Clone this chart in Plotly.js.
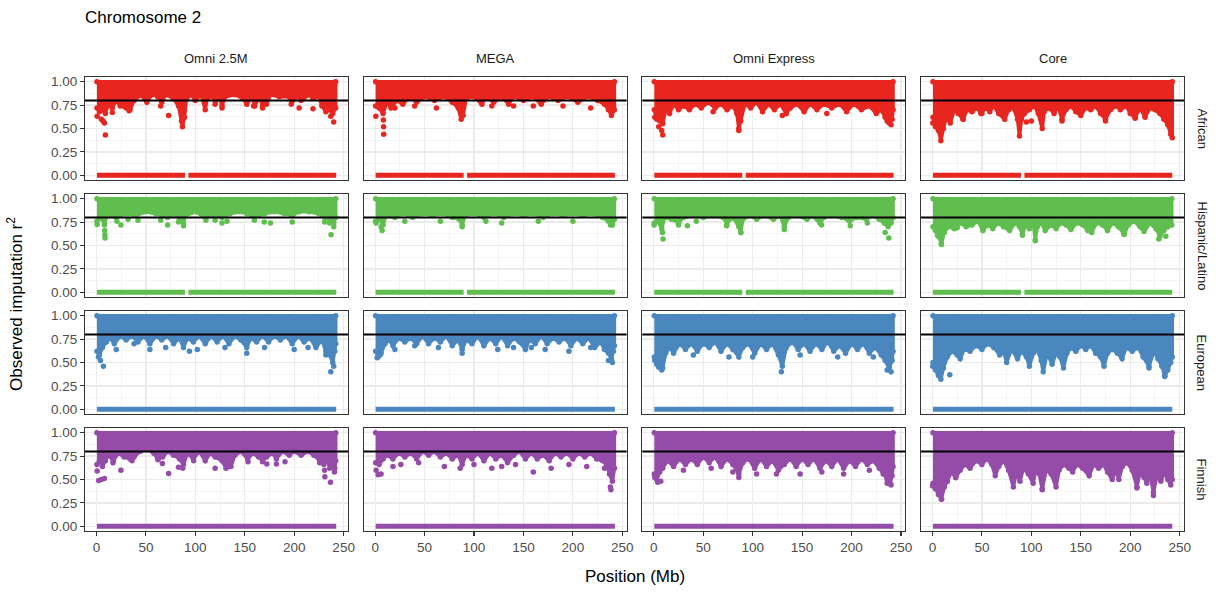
<!DOCTYPE html>
<html>
<head>
<meta charset="utf-8">
<script src="https://cdn.plot.ly/plotly-3.0.1.min.js"></script>
<style>html,body{margin:0;padding:0;background:#fff;}#chart{width:1225px;height:592px;}</style>
</head>
<body>
<div id="chart"></div>
<script>
// ---------------- DATA ----------------
const platforms = ["Omni 2.5M", "MEGA", "Omni Express", "Core"];
const populations = ["African", "Hispanic/Latino", "European", "Finnish"];
const xTickVals = [0, 50, 100, 150, 200, 250];
const yTickVals = [0, 0.25, 0.5, 0.75, 1.0];
const threshold = 0.8;
const bandTop = 1.0;
// zero-r2 variants (segments along the chromosome)
const zeroRunsGap = [[0.5, 89.5], [93, 242.5]];
const zeroRunsFull = [[0.5, 242.5]];
const popsWithGap = ["African", "Hispanic/Latino"];

// lower edge of the dense band of points [position Mb, r2]
const african_omni25_edge = [[0.5,0.72],[3,0.68],[6,0.70],[9,0.66],[12,0.76],[16,0.72],[20,0.80],[24,0.74],[30,0.72],[34,0.70],[38,0.80],[45,0.86],[51,0.78],[56,0.86],[62,0.84],[66,0.78],[70,0.86],[78,0.82],[83,0.74],[86,0.58],[87,0.52],[89,0.62],[91,0.82],[96,0.86],[100,0.80],[106,0.86],[110,0.70],[112,0.82],[118,0.84],[120,0.76],[124,0.85],[127,0.74],[130,0.84],[140,0.86],[148,0.82],[152,0.76],[158,0.84],[160,0.74],[165,0.84],[168,0.74],[172,0.76],[176,0.86],[185,0.84],[195,0.84],[197,0.76],[203,0.85],[207,0.80],[215,0.86],[219,0.82],[225,0.84],[228,0.74],[232,0.68],[236,0.70],[239,0.66],[242,0.72]];
const african_mega_edge = [[0.5,0.74],[4,0.72],[8,0.66],[12,0.78],[16,0.72],[22,0.80],[28,0.76],[35,0.84],[42,0.78],[50,0.84],[60,0.80],[70,0.84],[78,0.78],[84,0.72],[87,0.60],[89,0.64],[92,0.82],[100,0.84],[108,0.76],[112,0.84],[120,0.78],[128,0.84],[135,0.76],[140,0.84],[150,0.80],[160,0.84],[168,0.76],[175,0.84],[185,0.80],[195,0.84],[205,0.78],[215,0.84],[225,0.80],[232,0.76],[236,0.70],[239,0.64],[242,0.70]];
const african_omniexp_edge = [[0.5,0.70],[3,0.60],[6,0.58],[9,0.55],[12,0.70],[16,0.66],[20,0.76],[25,0.70],[30,0.74],[36,0.70],[42,0.76],[48,0.72],[55,0.78],[62,0.72],[68,0.76],[74,0.70],[80,0.74],[84,0.66],[86,0.50],[88,0.58],[92,0.76],[98,0.72],[104,0.78],[110,0.68],[116,0.76],[122,0.70],[128,0.76],[134,0.66],[138,0.72],[145,0.76],[152,0.68],[158,0.76],[165,0.70],[172,0.76],[180,0.72],[188,0.76],[195,0.68],[202,0.76],[210,0.70],[218,0.74],[225,0.66],[230,0.70],[234,0.62],[238,0.56],[241,0.60],[242,0.70]];
const african_core_edge = [[0.5,0.62],[3,0.52],[6,0.48],[8.5,0.37],[11,0.50],[14,0.62],[18,0.56],[22,0.70],[26,0.66],[31,0.60],[35,0.70],[40,0.68],[45,0.72],[49,0.66],[54,0.72],[58,0.68],[62,0.74],[67,0.66],[73,0.60],[77,0.70],[82,0.72],[86,0.60],[88,0.42],[90,0.60],[93,0.66],[98,0.70],[103,0.74],[107,0.66],[111,0.50],[113,0.68],[118,0.72],[123,0.66],[127,0.74],[131,0.60],[135,0.70],[140,0.74],[145,0.68],[150,0.64],[155,0.72],[160,0.70],[165,0.74],[170,0.66],[175,0.60],[180,0.70],[186,0.74],[190,0.70],[196,0.74],[200,0.66],[205,0.62],[210,0.72],[215,0.62],[220,0.72],[225,0.70],[230,0.66],[234,0.60],[238,0.54],[241,0.44],[242.5,0.40]];

const hispanic_omni25_edge = [[0.5,0.76],[4,0.80],[8,0.74],[11,0.82],[20,0.80],[30,0.84],[40,0.82],[50,0.86],[60,0.84],[66,0.82],[72,0.80],[80,0.84],[84,0.78],[88,0.74],[90,0.82],[100,0.86],[110,0.80],[120,0.82],[127,0.80],[135,0.84],[145,0.86],[152,0.84],[160,0.80],[170,0.84],[180,0.86],[190,0.84],[198,0.82],[205,0.86],[215,0.86],[225,0.84],[231,0.80],[236,0.78],[240,0.74],[242,0.80]];
const hispanic_mega_edge = [[0.5,0.76],[4,0.78],[8,0.72],[11,0.82],[20,0.80],[28,0.84],[38,0.80],[48,0.84],[58,0.82],[68,0.84],[78,0.80],[85,0.78],[88,0.72],[91,0.82],[100,0.84],[110,0.80],[120,0.84],[130,0.80],[140,0.84],[150,0.82],[160,0.84],[170,0.80],[180,0.84],[190,0.82],[200,0.84],[210,0.82],[220,0.84],[230,0.80],[236,0.76],[240,0.72],[242,0.78]];
const hispanic_omniexp_edge = [[0.5,0.74],[4,0.76],[8,0.68],[11,0.80],[18,0.78],[25,0.74],[30,0.80],[40,0.82],[50,0.80],[60,0.82],[70,0.80],[74,0.74],[80,0.80],[86,0.70],[88,0.64],[90,0.78],[98,0.82],[104,0.78],[112,0.82],[121,0.78],[128,0.82],[132,0.70],[136,0.80],[145,0.82],[155,0.78],[160,0.82],[168,0.74],[172,0.80],[180,0.82],[190,0.80],[198,0.76],[205,0.80],[215,0.78],[222,0.82],[228,0.78],[233,0.74],[237,0.70],[240,0.74],[242,0.80]];
const hispanic_core_edge = [[0.5,0.70],[3,0.66],[6,0.60],[9,0.52],[12,0.64],[16,0.70],[22,0.68],[28,0.74],[34,0.70],[40,0.72],[46,0.76],[51,0.66],[56,0.72],[61,0.68],[66,0.74],[72,0.70],[78,0.66],[84,0.74],[88,0.70],[91,0.62],[94,0.72],[98,0.68],[102,0.74],[104,0.56],[106,0.70],[110,0.74],[114,0.66],[120,0.72],[125,0.68],[130,0.74],[135,0.72],[140,0.67],[146,0.74],[152,0.72],[157,0.66],[161,0.64],[166,0.74],[172,0.72],[177,0.66],[182,0.74],[188,0.70],[194,0.62],[198,0.72],[204,0.76],[210,0.70],[214,0.65],[220,0.74],[226,0.68],[230,0.60],[234,0.66],[238,0.70],[242,0.72]];

const european_omni25_edge = [[0.5,0.62],[3,0.58],[6,0.66],[10,0.72],[14,0.76],[18,0.70],[24,0.78],[30,0.74],[36,0.78],[42,0.72],[48,0.78],[54,0.70],[60,0.78],[66,0.74],[72,0.78],[78,0.70],[84,0.76],[88,0.66],[92,0.76],[98,0.72],[104,0.78],[110,0.70],[116,0.78],[122,0.72],[128,0.78],[134,0.70],[140,0.78],[146,0.74],[152,0.66],[156,0.76],[162,0.72],[168,0.78],[174,0.72],[180,0.78],[186,0.74],[192,0.78],[198,0.70],[204,0.78],[210,0.72],[216,0.76],[222,0.66],[228,0.74],[232,0.62],[236,0.58],[239,0.50],[241,0.62],[242,0.70]];
const european_mega_edge = [[0.5,0.62],[3,0.56],[6,0.60],[10,0.70],[14,0.74],[18,0.68],[24,0.76],[30,0.72],[36,0.76],[42,0.70],[48,0.78],[54,0.70],[60,0.76],[66,0.72],[72,0.78],[78,0.68],[84,0.74],[88,0.64],[92,0.74],[98,0.70],[104,0.78],[110,0.68],[116,0.76],[122,0.70],[128,0.78],[134,0.68],[140,0.76],[146,0.72],[152,0.64],[156,0.74],[162,0.70],[168,0.78],[174,0.70],[180,0.76],[186,0.72],[192,0.76],[198,0.68],[204,0.76],[210,0.70],[216,0.76],[222,0.66],[228,0.72],[232,0.64],[236,0.60],[239,0.54],[241,0.62],[242,0.68]];
const european_omniexp_edge = [[0.5,0.56],[3,0.48],[6,0.50],[9,0.44],[12,0.60],[16,0.66],[20,0.60],[26,0.70],[32,0.64],[38,0.70],[44,0.62],[50,0.70],[56,0.66],[62,0.72],[68,0.62],[74,0.70],[80,0.64],[86,0.56],[90,0.66],[96,0.70],[102,0.60],[108,0.70],[114,0.64],[120,0.70],[126,0.58],[130,0.46],[134,0.66],[140,0.72],[146,0.64],[152,0.70],[158,0.62],[164,0.70],[170,0.64],[176,0.72],[182,0.62],[188,0.68],[194,0.60],[200,0.70],[206,0.64],[212,0.70],[218,0.60],[224,0.66],[230,0.58],[234,0.52],[238,0.44],[241,0.52],[242,0.62]];
const european_core_edge = [[0.5,0.50],[3,0.42],[6,0.36],[8.5,0.32],[11,0.44],[15,0.56],[20,0.62],[25,0.58],[28,0.54],[32,0.64],[38,0.62],[44,0.68],[50,0.64],[56,0.70],[62,0.66],[68,0.58],[72,0.62],[75,0.50],[80,0.64],[86,0.54],[90,0.62],[95,0.56],[98,0.46],[102,0.60],[106,0.64],[110,0.52],[112,0.40],[116,0.60],[121,0.48],[125,0.60],[129,0.56],[132.5,0.44],[136,0.60],[140,0.66],[145,0.62],[150,0.68],[155,0.64],[160,0.68],[165,0.60],[170,0.56],[173.5,0.46],[177,0.60],[182,0.64],[187,0.60],[191.8,0.54],[196,0.66],[202,0.62],[208,0.66],[213,0.56],[219,0.46],[224,0.62],[228,0.54],[232,0.46],[235,0.36],[238,0.42],[241,0.50],[242.5,0.56]];

const finnish_omni25_edge = [[0.5,0.66],[3,0.70],[6,0.64],[9,0.70],[12,0.76],[17,0.70],[22,0.78],[28,0.74],[34,0.72],[38,0.74],[44,0.80],[52,0.82],[58,0.78],[62,0.72],[67,0.74],[72,0.80],[78,0.76],[84,0.72],[88,0.66],[92,0.78],[98,0.72],[104,0.80],[110,0.70],[115,0.78],[120,0.74],[127,0.70],[131,0.62],[136,0.64],[140,0.76],[146,0.80],[153,0.72],[158,0.78],[164,0.74],[168,0.70],[172,0.74],[178,0.78],[182,0.72],[188,0.80],[195,0.76],[200,0.80],[207,0.76],[214,0.80],[220,0.76],[226,0.70],[230,0.66],[233,0.72],[236,0.62],[239,0.68],[241,0.62],[242,0.70]];
const finnish_mega_edge = [[0.5,0.68],[4,0.66],[8,0.72],[12,0.76],[18,0.72],[24,0.78],[30,0.74],[36,0.78],[42,0.72],[48,0.80],[54,0.76],[60,0.80],[66,0.74],[72,0.78],[78,0.72],[84,0.76],[88,0.66],[92,0.76],[98,0.72],[104,0.78],[110,0.70],[116,0.78],[122,0.72],[128,0.76],[134,0.68],[140,0.76],[146,0.80],[152,0.72],[158,0.78],[164,0.72],[170,0.76],[176,0.70],[182,0.78],[188,0.74],[194,0.78],[200,0.72],[206,0.78],[212,0.74],[218,0.78],[224,0.72],[230,0.70],[234,0.66],[237,0.56],[240,0.48],[242,0.62]];
const finnish_omniexp_edge = [[0.5,0.56],[3,0.50],[6,0.58],[9,0.62],[14,0.70],[20,0.64],[26,0.72],[32,0.66],[38,0.72],[44,0.66],[50,0.74],[56,0.68],[62,0.74],[68,0.64],[74,0.72],[80,0.66],[86,0.56],[90,0.68],[96,0.72],[102,0.62],[108,0.72],[114,0.64],[120,0.70],[126,0.60],[132,0.66],[138,0.72],[144,0.64],[150,0.72],[156,0.66],[162,0.72],[168,0.62],[174,0.70],[180,0.64],[186,0.72],[192,0.62],[198,0.70],[204,0.64],[210,0.72],[216,0.66],[222,0.70],[228,0.62],[232,0.56],[236,0.50],[239,0.46],[241,0.54],[242,0.64]];
const finnish_core_edge = [[0.5,0.46],[3,0.40],[6,0.34],[9,0.29],[12,0.42],[15,0.48],[19,0.58],[23.5,0.52],[28,0.60],[33,0.66],[38,0.62],[44,0.70],[50,0.66],[55,0.72],[60,0.66],[63.5,0.54],[67,0.64],[72,0.70],[77,0.60],[81.8,0.42],[85,0.58],[88.5,0.48],[92,0.62],[97,0.56],[101.8,0.46],[105,0.62],[108,0.56],[111,0.40],[115,0.60],[120,0.56],[125,0.42],[128,0.60],[133,0.66],[138,0.62],[141.8,0.58],[146,0.66],[152,0.62],[158.5,0.54],[163,0.66],[168,0.62],[173,0.66],[177,0.58],[181.8,0.50],[185,0.60],[188.5,0.50],[192,0.64],[197,0.68],[202,0.60],[206.8,0.42],[210,0.58],[214,0.52],[216.8,0.46],[220,0.56],[223.5,0.36],[227,0.54],[231,0.48],[235,0.58],[238,0.50],[241,0.44],[242.5,0.50]];

// isolated low points [position Mb, r2]
const african_omni25_low = [[0.7,0.63],[6.7,0.58],[8,0.56],[9,0.43],[5,0.60],[16,0.67],[33,0.69],[65,0.74],[73,0.64],[127,0.72],[159,0.74],[168,0.72],[205,0.72],[219,0.71],[237,0.63],[240,0.57]];
const african_mega_low = [[0.7,0.63],[8.3,0.59],[8.5,0.52],[8.7,0.44],[20,0.72],[40,0.74],[62,0.72],[118,0.74],[140,0.74],[160,0.74],[190,0.74],[218,0.72]];
const african_omniexp_low = [[1,0.62],[5,0.52],[8,0.48],[9,0.43],[60,0.68],[86,0.48],[130,0.64],[175,0.66],[236,0.58],[240,0.54]];
const african_core_low = [[0.3,0.56],[31,0.60],[50,0.66],[95,0.57],[100,0.58],[131,0.58],[175,0.58],[205,0.61]];
const hispanic_omni25_low = [[0.7,0.725],[8,0.72],[8.3,0.66],[8.5,0.615],[8.7,0.58],[20.7,0.76],[24.7,0.72],[32,0.78],[42,0.77],[65,0.77],[72,0.72],[83,0.75],[88,0.71],[110.7,0.77],[120,0.77],[127,0.74],[132,0.76],[159.7,0.77],[169.7,0.75],[176,0.74],[198,0.75],[230.7,0.75],[235.7,0.74],[240,0.70],[237.3,0.615]];
const hispanic_mega_low = [[1,0.74],[6,0.70],[7,0.66],[30,0.76],[66,0.76],[88,0.70],[112,0.76],[128,0.74],[165,0.76],[200,0.76],[238,0.72]];
const hispanic_omniexp_low = [[0.3,0.72],[8.7,0.64],[9.3,0.57],[25,0.72],[34,0.71],[43,0.76],[73.7,0.71],[88,0.64],[132,0.67],[169.7,0.72],[198.7,0.71],[216,0.74],[234,0.64],[237.7,0.58]];
const hispanic_core_low = [[5,0.61],[9,0.51],[22,0.69],[25,0.69],[91,0.61],[104,0.55],[193.8,0.62],[229,0.57],[236,0.60]];
const european_omni25_low = [[2,0.56],[4,0.52],[7,0.46],[20,0.64],[38,0.70],[54,0.64],[70,0.66],[94,0.62],[102,0.64],[130,0.66],[152,0.60],[170,0.66],[200,0.64],[214,0.66],[232,0.58],[237,0.40],[240,0.46]];
const european_mega_low = [[2,0.55],[5,0.58],[20,0.64],[40,0.68],[64,0.66],[88,0.60],[124,0.64],[140,0.66],[158,0.66],[172,0.64],[196,0.62],[218,0.66],[236,0.52],[240,0.50]];
const european_omniexp_low = [[1,0.52],[5,0.45],[8,0.42],[40,0.58],[76,0.56],[100,0.56],[129,0.40],[148,0.58],[186,0.56],[222,0.56],[236,0.42],[240,0.40]];
const european_core_low = [[0.2,0.46],[17.5,0.37],[219,0.44],[235,0.35]];
const finnish_omni25_low = [[0.7,0.59],[2.3,0.49],[5,0.50],[8,0.51],[16.7,0.68],[24.7,0.60],[36,0.70],[62.3,0.71],[66.7,0.67],[73,0.565],[83,0.63],[87.3,0.62],[98.3,0.70],[120,0.62],[134,0.64],[153.3,0.69],[168,0.69],[172.3,0.665],[182,0.665],[190.7,0.69],[225.7,0.68],[230.7,0.60],[231,0.53],[236.7,0.47],[240.7,0.58]];
const finnish_mega_low = [[1,0.60],[3,0.55],[6,0.56],[18,0.64],[26,0.66],[44,0.68],[70,0.64],[86,0.62],[100,0.66],[118,0.62],[128,0.64],[142,0.66],[160,0.58],[178,0.62],[196,0.66],[214,0.64],[232,0.62],[238,0.42],[238.5,0.39]];
const finnish_omniexp_low = [[1,0.52],[4,0.47],[7,0.48],[30,0.60],[58,0.62],[80,0.58],[86,0.52],[104,0.56],[124,0.56],[148,0.56],[170,0.58],[192,0.56],[218,0.60],[236,0.46],[240,0.44]];
const finnish_core_low = [[0.2,0.43],[9.2,0.29],[15,0.48],[23.5,0.52],[111,0.39],[206.8,0.41],[223.5,0.33]];

// ---------------- TABLES built from the arrays ----------------
const edges = [
  [african_omni25_edge, african_mega_edge, african_omniexp_edge, african_core_edge],
  [hispanic_omni25_edge, hispanic_mega_edge, hispanic_omniexp_edge, hispanic_core_edge],
  [european_omni25_edge, european_mega_edge, european_omniexp_edge, european_core_edge],
  [finnish_omni25_edge, finnish_mega_edge, finnish_omniexp_edge, finnish_core_edge]
];
const lows = [
  [african_omni25_low, african_mega_low, african_omniexp_low, african_core_low],
  [hispanic_omni25_low, hispanic_mega_low, hispanic_omniexp_low, hispanic_core_low],
  [european_omni25_low, european_mega_low, european_omniexp_low, european_core_low],
  [finnish_omni25_low, finnish_mega_low, finnish_omniexp_low, finnish_core_low]
];

// ---------------- STYLE ----------------
const popColors = ["#E8261F", "#5FBE4E", "#4A87BF", "#954CA9"];
const FONT = "Liberation Sans, Arial, Helvetica, sans-serif";
const W = 0.2393, GX = (1 - 4 * W) / 3;
const H = 0.2269, GY = (1 - 4 * H) / 3;

const traces = [];
const layout = {
  width: 1225, height: 592,
  margin: {l: 85, r: 41, t: 77, b: 61},
  paper_bgcolor: "#ffffff", plot_bgcolor: "#ffffff",
  showlegend: false,
  font: {family: FONT, color: "#1a1a1a"},
  title: {text: "Chromosome 2", x: 0, xref: "paper", xanchor: "left", y: 0.972, yref: "container", yanchor: "middle",
          font: {family: FONT, size: 17, color: "#000000"}},
  shapes: [], annotations: []
};

for (let r = 0; r < 4; r++) {
  for (let c = 0; c < 4; c++) {
    const n = r * 4 + c + 1;
    const xa = n === 1 ? "x" : "x" + n;
    const ya = n === 1 ? "y" : "y" + n;
    const col = popColors[r];
    const edge = edges[r][c];
    // dense band polygon
    const bx = edge.map(p => p[0]).concat([edge[edge.length - 1][0], edge[0][0]]);
    const by = edge.map(p => p[1]).concat([bandTop, bandTop]);
    traces.push({type: "scatter", mode: "lines+markers", x: bx, y: by, fill: "toself", fillcolor: col,
      line: {color: col, width: 3.5, shape: "linear"}, marker: {color: col, size: 5.5},
      xaxis: xa, yaxis: ya, hoverinfo: "skip", cliponaxis: false});
    // low points
    const lo = lows[r][c];
    traces.push({type: "scatter", mode: "markers", x: lo.map(p => p[0]), y: lo.map(p => p[1]),
      marker: {color: col, size: 5.5}, xaxis: xa, yaxis: ya, hoverinfo: "skip", cliponaxis: false});
    // zero line segments
    const runs = popsWithGap.includes(populations[r]) ? zeroRunsGap : zeroRunsFull;
    const zx = [], zy = [];
    runs.forEach((s, i) => { if (i) { zx.push(null); zy.push(null); } zx.push(s[0], s[1]); zy.push(0, 0); });
    traces.push({type: "scatter", mode: "lines", x: zx, y: zy, connectgaps: false,
      line: {color: col, width: 5}, xaxis: xa, yaxis: ya, hoverinfo: "skip", cliponaxis: false});

    const x0 = c * (W + GX), y1 = 1 - r * (H + GY);
    const common = {showline: true, linecolor: "#333333", linewidth: 1.1, mirror: true, zeroline: false,
      showgrid: true, gridcolor: "#ebebeb", gridwidth: 1.2,
      tickfont: {family: FONT, size: 13.5, color: "#4d4d4d"}, ticklen: 4, tickcolor: "#333333", tickwidth: 1.1};
    layout["xaxis" + (n === 1 ? "" : n)] = Object.assign({}, common, {
      domain: [x0, x0 + W], anchor: ya, range: [-11.6, 254.4], tickvals: xTickVals,
      ticks: r === 3 ? "outside" : "", showticklabels: r === 3,
      minor: {tickvals: [25, 75, 125, 175, 225], showgrid: true, gridcolor: "#f1f1f1", gridwidth: 0.7}
    });
    layout["yaxis" + (n === 1 ? "" : n)] = Object.assign({}, common, {
      domain: [y1 - H, y1], anchor: xa, range: [-0.05, 1.05], tickvals: yTickVals, tickformat: ".2f",
      ticks: c === 0 ? "outside" : "", showticklabels: c === 0,
      minor: {tickvals: [0.125, 0.375, 0.625, 0.875], showgrid: true, gridcolor: "#f1f1f1", gridwidth: 0.7}
    });
    layout.shapes.push({type: "line", xref: xa + " domain", yref: ya, x0: 0, x1: 1, y0: threshold, y1: threshold,
      line: {color: "#000000", width: 2}, layer: "above"});
  }
}
// facet strip labels
platforms.forEach((p, c) => {
  layout.annotations.push({text: p, xref: "paper", yref: "paper", x: c * (W + GX) + W / 2, y: 1, yshift: 19,
    showarrow: false, xanchor: "center", yanchor: "middle", font: {family: FONT, size: 13, color: "#1a1a1a"}});
});
populations.forEach((p, r) => {
  const y1 = 1 - r * (H + GY);
  layout.annotations.push({text: p, xref: "paper", yref: "paper", x: 1, xshift: 18, y: y1 - H / 2,
    showarrow: false, xanchor: "center", yanchor: "middle", textangle: 90, font: {family: FONT, size: 13, color: "#1a1a1a"}});
});
// axis titles
layout.annotations.push({text: "Position (Mb)", xref: "paper", yref: "paper", x: 0.5, y: 0, yshift: -45,
  showarrow: false, xanchor: "center", yanchor: "middle", font: {family: FONT, size: 17, color: "#000000"}});
layout.annotations.push({text: "Observed imputation r<sup>2</sup>", xref: "paper", yref: "paper", x: 0, xshift: -70, y: 0.5,
  showarrow: false, xanchor: "center", yanchor: "middle", textangle: -90, font: {family: FONT, size: 17, color: "#000000"}});

Plotly.newPlot("chart", traces, layout, {displayModeBar: false, staticPlot: true});
</script>
</body>
</html>
